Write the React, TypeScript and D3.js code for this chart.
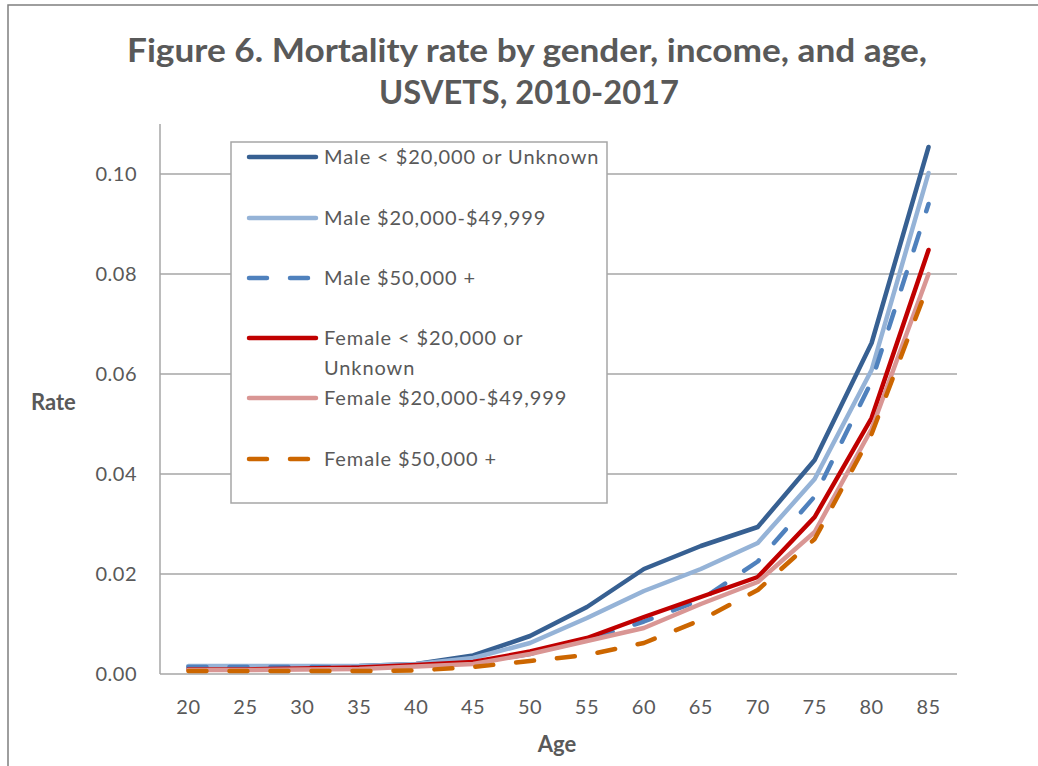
import * as d3 from "d3";
import { useEffect, useRef } from "react";

const ages = ["20", "25", "30", "35", "40", "45", "50", "55", "60", "65", "70", "75", "80", "85"];

const maleLow = [0.0015, 0.0015, 0.0015, 0.0016, 0.002, 0.0037, 0.0076, 0.0134, 0.021, 0.0256, 0.0294, 0.0428, 0.0662, 0.1054];
const maleMid = [0.0016, 0.0016, 0.0016, 0.0016, 0.002, 0.0032, 0.0062, 0.0112, 0.0166, 0.021, 0.0262, 0.039, 0.0608, 0.1002];
const maleHigh = [0.0014, 0.0014, 0.0014, 0.0013, 0.0016, 0.0022, 0.004, 0.0068, 0.0105, 0.0148, 0.0225, 0.0355, 0.0585, 0.094];
const femaleLow = [0.0009, 0.0009, 0.0011, 0.0013, 0.0018, 0.0024, 0.0045, 0.0072, 0.0114, 0.0154, 0.0194, 0.0314, 0.0512, 0.0848];
const femaleMid = [0.0008, 0.0008, 0.0009, 0.001, 0.0015, 0.002, 0.004, 0.0066, 0.0092, 0.014, 0.0184, 0.0284, 0.049, 0.08];
const femaleHigh = [0.0006, 0.0006, 0.0006, 0.0006, 0.0007, 0.0014, 0.0026, 0.0038, 0.0062, 0.0108, 0.0168, 0.027, 0.048, 0.078];

const seriesNames = [
  "Male < $20,000 or Unknown",
  "Male $20,000-$49,999",
  "Male $50,000 +",
  "Female < $20,000 or Unknown",
  "Female $20,000-$49,999",
  "Female $50,000 +",
];

const yTicks = [0, 0.02, 0.04, 0.06, 0.08, 0.1];

const TEXT = "#595959";
const GRID = "#A6A6A6";
const FONT = "Lato, 'Open Sans', sans-serif";

const App = () => {
  const svgRef = useRef<SVGSVGElement>(null);

  useEffect(() => {
    document.body.style.margin = "0";
    const svg = d3.select(svgRef.current);
    svg.selectAll("*").remove();

    const width = 1038;
    const height = 766;
    const plot = { left: 160, right: 957, top: 124, bottom: 674 };

    svg.attr("width", width).attr("height", height).style("display", "block");

    svg.append("rect").attr("width", width).attr("height", height).attr("fill", "#fff");

    // chart frame (runs off the right and bottom edge)
    svg
      .append("rect")
      .attr("x", 8)
      .attr("y", 5)
      .attr("width", width + 20)
      .attr("height", height + 20)
      .attr("fill", "none")
      .attr("stroke", "#7F7F7F")
      .attr("stroke-width", 1.5);

    const x = d3.scalePoint().domain(ages).range([plot.left, plot.right]).padding(0.5);
    const y = d3.scaleLinear().domain([0, 0.11]).range([plot.bottom, plot.top]);

    // title
    const title = svg
      .append("text")
      .attr("text-anchor", "middle")
      .attr("font-family", FONT)
      .attr("font-weight", "bold")
      .attr("font-size", 33)
      .attr("fill", TEXT);
    title
      .append("tspan")
      .attr("x", 527)
      .attr("y", 62)
      .attr("textLength", 800)
      .attr("lengthAdjust", "spacingAndGlyphs")
      .text("Figure 6. Mortality rate by gender, income, and age,");
    title
      .append("tspan")
      .attr("x", 529)
      .attr("y", 104)
      .attr("textLength", 300)
      .attr("lengthAdjust", "spacingAndGlyphs")
      .text("USVETS, 2010-2017");

    // gridlines
    svg
      .append("g")
      .selectAll("line")
      .data(yTicks.filter((d) => d > 0))
      .enter()
      .append("line")
      .attr("x1", plot.left)
      .attr("x2", plot.right)
      .attr("y1", (d) => y(d))
      .attr("y2", (d) => y(d))
      .attr("stroke", GRID)
      .attr("stroke-width", 1.5);

    // axes lines
    svg
      .append("line")
      .attr("x1", plot.left)
      .attr("x2", plot.left)
      .attr("y1", plot.top)
      .attr("y2", plot.bottom)
      .attr("stroke", GRID)
      .attr("stroke-width", 1.5);
    svg
      .append("line")
      .attr("x1", plot.left)
      .attr("x2", plot.right)
      .attr("y1", plot.bottom)
      .attr("y2", plot.bottom)
      .attr("stroke", GRID)
      .attr("stroke-width", 1.5);

    // y tick labels
    svg
      .append("g")
      .selectAll("text")
      .data(yTicks)
      .enter()
      .append("text")
      .attr("x", 137)
      .attr("y", (d) => y(d))
      .attr("dy", "0.36em")
      .attr("text-anchor", "end")
      .attr("font-family", FONT)
      .attr("font-size", 20)
      .attr("letter-spacing", 0.5)
      .attr("fill", TEXT)
      .text((d) => d3.format(".2f")(d));

    // x tick labels
    svg
      .append("g")
      .selectAll("text")
      .data(ages)
      .enter()
      .append("text")
      .attr("x", (d) => x(d) as number)
      .attr("y", 707)
      .attr("dy", "0.36em")
      .attr("text-anchor", "middle")
      .attr("font-family", FONT)
      .attr("font-size", 20)
      .attr("letter-spacing", 0.5)
      .attr("fill", TEXT)
      .text((d) => d);

    // axis titles
    svg
      .append("text")
      .attr("x", 557)
      .attr("y", 744)
      .attr("dy", "0.36em")
      .attr("text-anchor", "middle")
      .attr("font-family", FONT)
      .attr("font-weight", "bold")
      .attr("font-size", 22)
      .attr("fill", TEXT)
      .text("Age");
    svg
      .append("text")
      .attr("x", 31)
      .attr("y", 402)
      .attr("dy", "0.36em")
      .attr("font-family", FONT)
      .attr("font-weight", "bold")
      .attr("font-size", 22)
      .attr("fill", TEXT)
      .text("Rate");

    const series = [
      { name: seriesNames[0], values: maleLow, color: "#376092", dash: null },
      { name: seriesNames[1], values: maleMid, color: "#95B3D7", dash: null },
      { name: seriesNames[2], values: maleHigh, color: "#4F81BD", dash: "18,23" },
      { name: seriesNames[3], values: femaleLow, color: "#C00000", dash: null },
      { name: seriesNames[4], values: femaleMid, color: "#D99694", dash: null },
      { name: seriesNames[5], values: femaleHigh, color: "#CC6600", dash: "18,23" },
    ];

    const line = d3
      .line<number>()
      .x((_, i) => x(ages[i]) as number)
      .y((d) => y(d));

    series.forEach((s) => {
      svg
        .append("path")
        .datum(s.values)
        .attr("d", line)
        .attr("fill", "none")
        .attr("stroke", s.color)
        .attr("stroke-width", 4.5)
        .attr("stroke-linecap", "round")
        .attr("stroke-linejoin", "round")
        .attr("stroke-dasharray", s.dash);
    });

    // legend
    const lg = svg.append("g");
    lg.append("rect")
      .attr("x", 231)
      .attr("y", 142)
      .attr("width", 376)
      .attr("height", 361)
      .attr("fill", "#fff")
      .attr("stroke", GRID)
      .attr("stroke-width", 1.5);

    const rowY = [157, 218, 278, 338, 398, 459];
    series.forEach((s, i) => {
      lg.append("line")
        .attr("x1", 249)
        .attr("x2", s.dash ? 312 : 316)
        .attr("y1", rowY[i])
        .attr("y2", rowY[i])
        .attr("stroke", s.color)
        .attr("stroke-width", 4.5)
        .attr("stroke-linecap", "round")
        .attr("stroke-dasharray", s.dash);
      const words = i === 3 ? ["Female < $20,000 or", "Unknown"] : [s.name];
      words.forEach((w, j) => {
        lg.append("text")
          .attr("x", 324)
          .attr("y", rowY[i] + j * 30)
          .attr("dy", "0.36em")
          .attr("font-family", FONT)
          .attr("font-size", 20)
          .attr("letter-spacing", 0.9)
          .attr("fill", TEXT)
          .text(w);
      });
    });
  }, []);

  return <svg ref={svgRef}></svg>;
};

export default App;
